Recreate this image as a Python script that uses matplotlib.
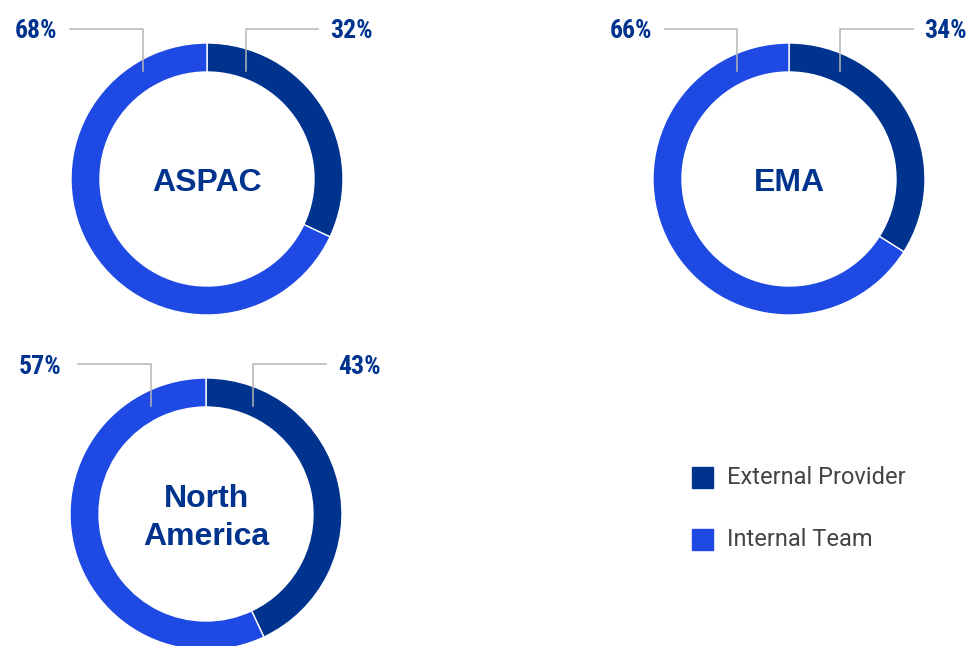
import matplotlib
matplotlib.use("Agg")
import matplotlib.pyplot as plt
from matplotlib import font_manager

# data
regions = ["ASPAC", "EMA", "North\nAmerica"]
external = [32, 34, 43]
internal = [68, 66, 57]
series = ["External Provider", "Internal Team"]
colors = ["#00338D", "#1E49E2"]

# layout (pixels, image coords: y down)
W, H = 968, 646
centers = [(207, 179), (789, 179), (206, 514)]
R = 136
RING = 29
# right line x, left line x, line y, start y, right end, left end, right text x, left text x
lead = [
    (246, 143, 29, 71, 318, 70, 330, 57),
    (840, 737, 29, 71, 913, 665, 924, 652),
    (253, 151, 364, 406, 326, 78, 338, 62),
]

names = {f.name for f in font_manager.fontManager.ttflist}
narrow = "DejaVu Sans"
for cand in ["Roboto Condensed", "Encode Sans Condensed", "Archivo Narrow"]:
    if cand in names:
        narrow = cand
        break

fig = plt.figure(figsize=(W / 100, H / 100), dpi=100)
ax = fig.add_axes([0, 0, 1, 1])

for i, (cx, cy) in enumerate(centers):
    ax.pie([external[i], internal[i]], center=(cx, H - cy), radius=R,
           startangle=90, counterclock=False, colors=colors,
           wedgeprops=dict(width=RING, edgecolor="white", linewidth=1))
    lines = regions[i].split("\n")
    base = cy + 12 - 19 * (len(lines) - 1)
    for k, ln in enumerate(lines):
        ax.text(cx, H - (base + 38 * k), ln, ha="center", va="baseline",
                fontsize=23, fontweight="bold", color="#00338D",
                family="Liberation Sans")
    xr, xl, ly, y0, xre, xle, tr, tl = lead[i]
    ax.plot([xr, xr, xre], [H - y0, H - ly, H - ly], color="#b5b5b5", lw=1.1)
    ax.plot([xl, xl, xle], [H - y0, H - ly, H - ly], color="#b5b5b5", lw=1.1)
    ax.text(tr, H - ly - 9.5, f"{external[i]}%", ha="left", va="baseline",
            fontsize=18.5, fontweight="bold", color="#00338D", family=narrow)
    ax.text(tl, H - ly - 9.5, f"{internal[i]}%", ha="right", va="baseline",
            fontsize=18.5, fontweight="bold", color="#00338D", family=narrow)

# legend
for j, name in enumerate(series):
    y = [477, 539][j]
    ax.add_patch(plt.Rectangle((692, H - y - 10.5), 21, 21, color=colors[j]))
    ax.text(727, H - y, name, ha="left", va="center", fontsize=17,
            color="#444444", family="Roboto")

ax.set_xlim(0, W)
ax.set_ylim(0, H)
ax.set_aspect("auto")
ax.axis("off")
fig.savefig("out.png", dpi=100, facecolor="white")
